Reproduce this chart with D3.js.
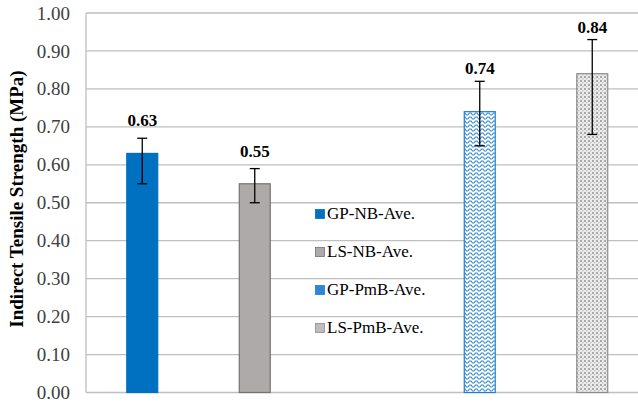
<!DOCTYPE html>
<html><head><meta charset="utf-8">
<script src="https://cdn.jsdelivr.net/npm/d3@7"></script>
<style>body{margin:0;background:#fff}svg{display:block}
text{font-family:"Liberation Serif","Times New Roman",Times,serif;}</style>
</head><body>
<svg id="c" width="638" height="404"></svg>
<script>
const slots = ["GP-NB-Ave.", "LS-NB-Ave.", "", "GP-PmB-Ave.", "LS-PmB-Ave."];
const series = ["GP-NB-Ave.", "LS-NB-Ave.", "GP-PmB-Ave.", "LS-PmB-Ave."];
const values = [0.63, 0.55, 0.74, 0.84];
const errHigh = [0.67, 0.59, 0.82, 0.93];
const errLow = [0.55, 0.50, 0.65, 0.68];
const labels = ["0.63", "0.55", "0.74", "0.84"];
const yTicks = [0, 0.1, 0.2, 0.3, 0.4, 0.5, 0.6, 0.7, 0.8, 0.9, 1.0];

(function(){
const FF = '"Liberation Serif","Times New Roman",Times,serif';
const svg = d3.select("#c");
const defs = svg.append("defs");
const zz = defs.append("pattern").attr("id","zig").attr("patternUnits","userSpaceOnUse")
  .attr("width",6).attr("height",4);
zz.append("rect").attr("width",6).attr("height",4).attr("fill","#fff");
zz.append("path").attr("d","M0,3 L1.5,1 L3,1 L4.5,3 L6,3").attr("fill","none")
  .attr("stroke","#2E86D6").attr("stroke-width",1.1);
const dt = defs.append("pattern").attr("id","dots").attr("patternUnits","userSpaceOnUse")
  .attr("width",4).attr("height",4);
dt.append("rect").attr("width",4).attr("height",4).attr("fill","#ECECEC");
dt.append("rect").attr("x",0).attr("y",0).attr("width",2).attr("height",2).attr("fill","#A8A8A8");
dt.append("rect").attr("x",2).attr("y",2).attr("width",1.5).attr("height",1.5).attr("fill","#C4C4C4");

const fills = ["#0070C0", "#AEAAAA", "url(#zig)", "url(#dots)"];
const strokes = ["#0070C0", "#767171", "#1F7FD0", "#8C8C8C"];
const legFills = ["#0070C0", "#AEAAAA", "#2E86D6", "#BDBDBD"];

const pl = 86, pr = 638, pt = 13, pb = 392.5;
const y = d3.scaleLinear().domain([0, 1]).range([pb, pt]);
const x = d3.scaleBand().domain(slots).range([pl, pl + 562.5])
  .paddingInner(0.716).paddingOuter(0.358);

svg.append("g").selectAll("line").data(yTicks).join("line")
  .attr("x1", pl).attr("x2", pr)
  .attr("y1", d => y(d)).attr("y2", d => y(d))
  .attr("stroke", "#BFBFBF").attr("stroke-width", 1.3);
svg.append("line").attr("x1", pl).attr("x2", pl).attr("y1", pt).attr("y2", pb)
  .attr("stroke", "#BFBFBF").attr("stroke-width", 1.3);

const yAxis = d3.axisLeft(y).tickValues(yTicks).tickFormat(d3.format(".2f")).tickSize(0).tickPadding(16);
const ga = svg.append("g").attr("transform", `translate(${pl},0)`).call(yAxis);
ga.select(".domain").remove();
ga.attr("font-family", null).attr("font-size", null);
ga.selectAll("text").style("font-family", FF).style("font-size", "19px").attr("fill", "#404040");

svg.append("text").attr("transform", `translate(23,199) rotate(-90)`)
  .attr("text-anchor", "middle").style("font-family", FF)
  .attr("font-weight", "bold").style("font-size", "19px").attr("fill", "#000")
  .text("Indirect Tensile Strength (MPa)");

svg.append("g").selectAll("rect").data(series).join("rect")
  .attr("x", d => x(d) + 0.5).attr("width", x.bandwidth() - 1)
  .attr("y", (d, i) => y(values[i])).attr("height", (d, i) => y(0) - y(values[i]))
  .attr("fill", (d, i) => fills[i]).attr("stroke", (d, i) => strokes[i]).attr("stroke-width", 1.2);

const eg = svg.append("g").attr("stroke", "#000").attr("stroke-width", 1.3);
series.forEach((s, i) => {
  const cx = x(s) + x.bandwidth() / 2;
  eg.append("line").attr("x1", cx).attr("x2", cx).attr("y1", y(errHigh[i])).attr("y2", y(errLow[i]));
  eg.append("line").attr("x1", cx - 5).attr("x2", cx + 5).attr("y1", y(errHigh[i])).attr("y2", y(errHigh[i]));
  eg.append("line").attr("x1", cx - 5).attr("x2", cx + 5).attr("y1", y(errLow[i])).attr("y2", y(errLow[i]));
});

svg.append("g").selectAll("text").data(series).join("text")
  .attr("x", d => x(d) + x.bandwidth() / 2)
  .attr("y", (d, i) => Math.min(y(values[i]) - 27, y(errHigh[i]) - 7))
  .attr("text-anchor", "middle").style("font-family", FF)
  .attr("font-weight", "bold").style("font-size", "17px").attr("fill", "#000")
  .text((d, i) => labels[i]);

const lg = svg.append("g");
series.forEach((s, i) => {
  const ly = 214 + i * 38;
  lg.append("rect").attr("x", 315.5).attr("y", ly - 4.5).attr("width", 9).attr("height", 9)
    .attr("fill", legFills[i]).attr("stroke", strokes[i]).attr("stroke-width", 0.8);
  lg.append("text").attr("x", 327).attr("y", ly + 4.8)
    .style("font-family", FF).style("font-size", "17px").attr("fill", "#000").text(s);
});
})();
</script>
</body></html>
